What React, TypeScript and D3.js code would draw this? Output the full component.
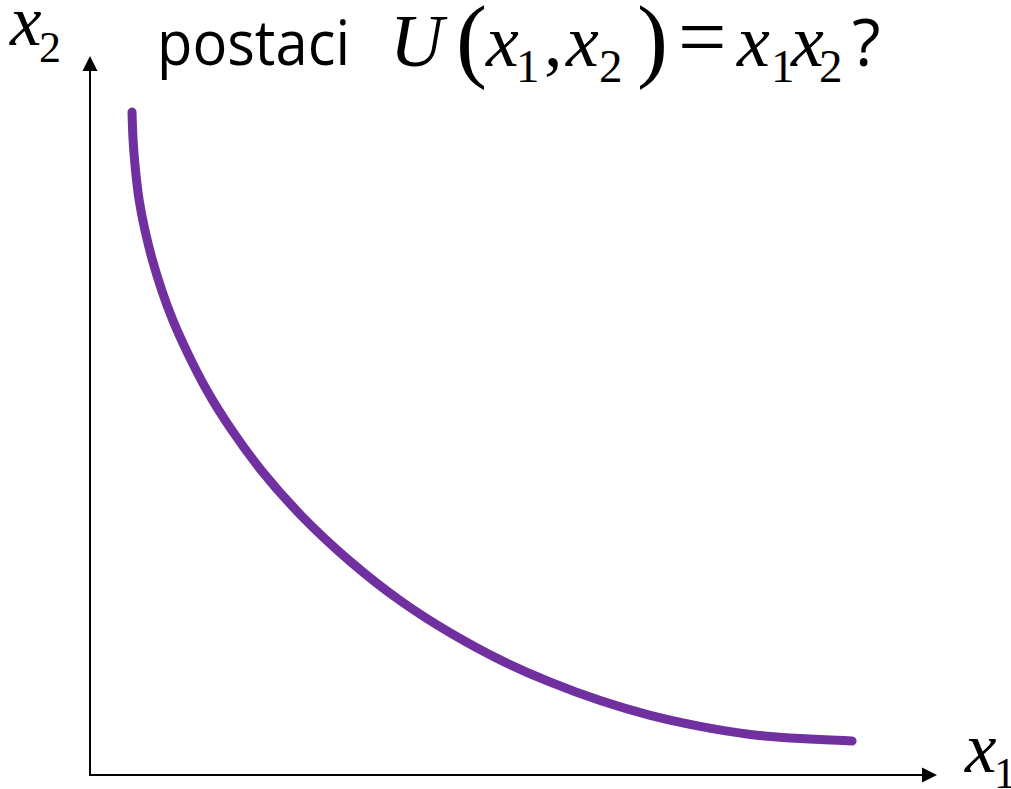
import React from "react";
import * as d3 from "d3";

// Indifference curve samples (x1, x2)
const curveX1 = [0.5, 0.51, 0.54, 0.58, 0.65, 0.74, 0.85, 0.98, 1.14, 1.38, 1.68, 2.02, 2.5, 3.1, 3.69, 4.29, 4.88, 5.48, 6.07, 6.67, 7.26, 7.86, 8.45, 9.07];
const curveX2 = [9.34, 8.94, 8.52, 8.1, 7.68, 7.25, 6.83, 6.41, 5.99, 5.42, 4.86, 4.3, 3.65, 2.99, 2.44, 1.99, 1.61, 1.3, 1.04, 0.83, 0.68, 0.56, 0.51, 0.48];

const W = 1011;
const H = 789;
const PURPLE = "#7030A0";
const SERIF = "Liberation Serif, Times New Roman, serif";
const SANS = "Open Sans, Noto Sans, sans-serif";

export default function App() {
  const x = d3.scaleLinear().domain([0, 10.08]).range([90, 937]);
  const y = d3.scaleLinear().domain([0, 10.13]).range([775, 56]);

  const pts: [number, number][] = curveX1.map((v, i) => [v, curveX2[i]]);
  const line = d3
    .line<[number, number]>()
    .x((d) => x(d[0]))
    .y((d) => y(d[1]))
    .curve(d3.curveBasis);

  const x0 = x(0);
  const y0 = y(0);
  const xTip = x(10.08);
  const yTip = y(10.13);
  const head = 15;
  const half = 7.5;

  const italic = { fontFamily: SERIF, fontStyle: "italic" as const };
  const upright = { fontFamily: SERIF };

  return (
    <svg
      width={W}
      height={H}
      viewBox={`0 0 ${W} ${H}`}
      style={{ position: "absolute", left: 0, top: 0, background: "#fff" }}
    >
      {/* axes */}
      <line x1={x0} y1={y0} x2={x0} y2={yTip + head - 1} stroke="#000" strokeWidth={2} />
      <line x1={x0 - 1} y1={y0} x2={xTip - head + 1} y2={y0} stroke="#000" strokeWidth={2} />
      <polygon
        points={`${x0},${yTip} ${x0 - half},${yTip + head} ${x0 + half},${yTip + head}`}
        fill="#000"
      />
      <polygon
        points={`${xTip},${y0} ${xTip - head},${y0 - half} ${xTip - head},${y0 + half}`}
        fill="#000"
      />

      {/* curve */}
      <path
        d={line(pts) || ""}
        fill="none"
        stroke={PURPLE}
        strokeWidth={9}
        strokeLinecap="round"
      />

      {/* axis labels */}
      <text x={10} y={45} fontSize={71} {...italic}>x</text>
      <text x={39} y={62} fontSize={44} {...upright}>2</text>
      <text x={965} y={772} fontSize={71} {...italic}>x</text>
      <text x={994} y={788} fontSize={44} {...upright}>1</text>

      {/* title */}
      <text x={157} y={65} fontSize={62} fontFamily={SANS} textLength={193} lengthAdjust="spacingAndGlyphs">
        postaci
      </text>
      <text x={390} y={66} fontSize={74} {...italic}>U</text>
      <text x={456} y={70} fontSize={93} {...upright}>(</text>
      <text x={486} y={66} fontSize={74} {...italic}>x</text>
      <text x={516} y={82} fontSize={47} {...upright}>1</text>
      <text x={544} y={66} fontSize={74} {...upright}>,</text>
      <text x={566} y={66} fontSize={74} {...italic}>x</text>
      <text x={599} y={82} fontSize={47} {...upright}>2</text>
      <text x={637} y={70} fontSize={93} {...upright}>)</text>
      <text x={678} y={66} fontSize={86} {...upright}>=</text>
      <text x={737} y={66} fontSize={74} {...italic}>x</text>
      <text x={771} y={82} fontSize={47} {...upright}>1</text>
      <text x={791} y={66} fontSize={74} {...italic}>x</text>
      <text x={819} y={82} fontSize={47} {...upright}>2</text>
      <text x={852} y={66} fontSize={66} fontFamily={SANS}>?</text>
    </svg>
  );
}
